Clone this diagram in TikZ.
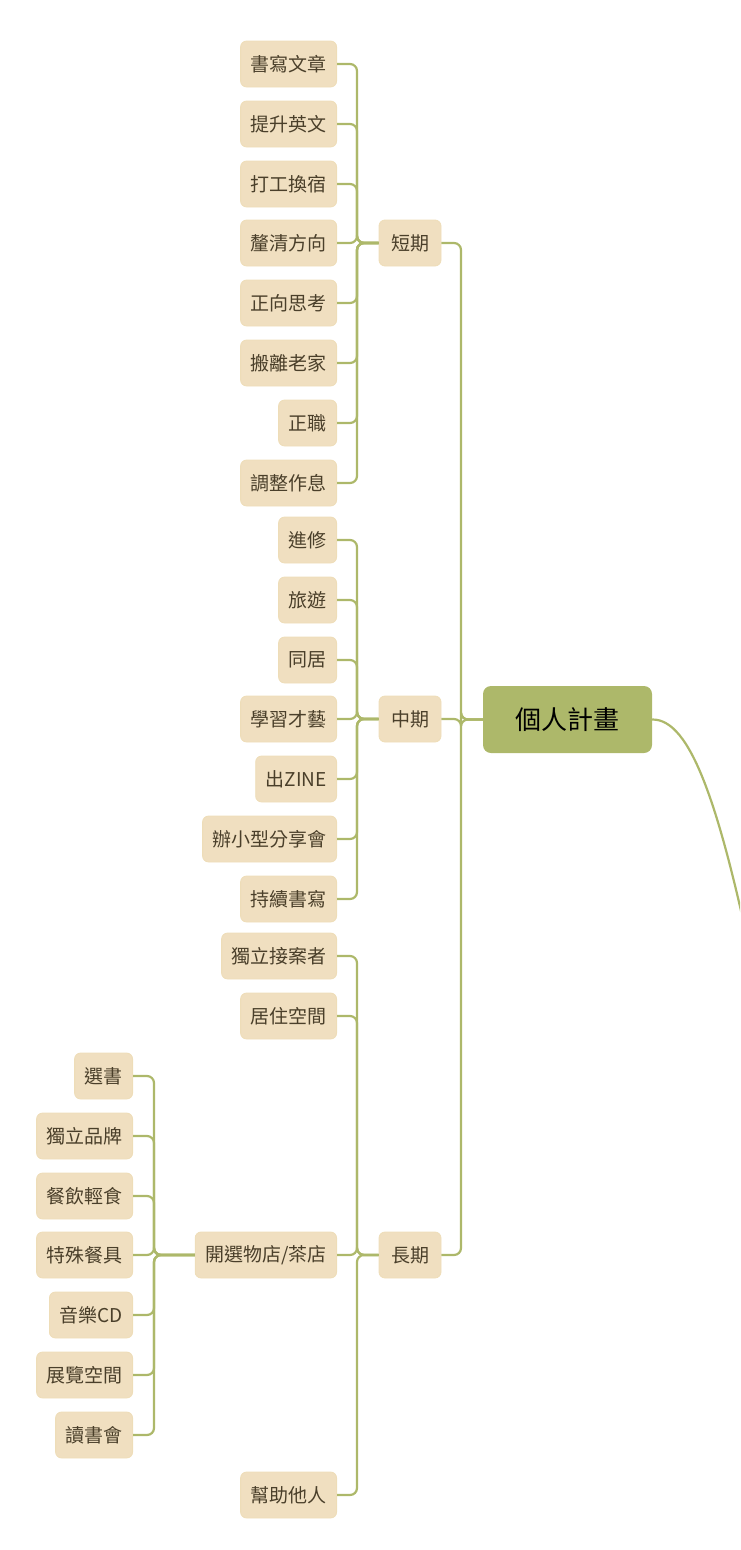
\documentclass[tikz,border=0pt]{standalone}
\usepackage{fontspec}
\setmainfont{Noto Sans CJK TC}
\begin{document}
\begin{tikzpicture}[x=1pt,y=-1pt,
  leaf/.style={draw=leafline,fill=leaffill,rounded corners=6pt,minimum height=46pt,inner xsep=10pt,text=txt,font=\fontsize{19pt}{22pt}\selectfont,anchor=east,line width=0.8pt},
  br/.style={leaf,anchor=center,minimum width=62pt},
  con/.style={draw=lin,line width=2.2pt,rounded corners=7pt}]
\definecolor{leaffill}{HTML}{F0DFC0}
\definecolor{leafline}{HTML}{EEDDB8}
\definecolor{txt}{HTML}{4A3F2A}
\definecolor{lin}{HTML}{ADB86A}
\useasboundingbox (0,0) rectangle (740,1550);
\node[draw=none,fill=lin,rounded corners=8pt,minimum width=169pt,minimum height=67pt,font=\fontsize{26pt}{30pt}\selectfont,text=black] (root) at (567.5,719.5) {個人計畫};
\node[br] (s) at (410,243) {短期};
\node[br] (m) at (410,719) {中期};
\node[br] (l) at (410,1255) {長期};
\foreach \b in {s,m,l}{\draw[con] (root.west) -| (461,0 |- \b.east) -- (\b.east);}
\begin{scope}
\clip (0,0) rectangle (740,1550);
\draw[draw=lin,line width=2.2pt] (root.east) .. controls (690,719) and (720,800) .. (760,1000);
\end{scope}
% short
\foreach \t/\y [count=\i] in {書寫文章/64,提升英文/124,打工換宿/184,釐清方向/243,正向思考/303,搬離老家/363,正職/423,調整作息/483}{
  \node[leaf] (s\i) at (337,\y) {\t};
  \draw[con] (s\i.east) -| (357,0 |- s.west) -- (s.west);}
\foreach \t/\y [count=\i] in {進修/540,旅遊/600,同居/660,學習才藝/719,出ZINE/779,辦小型分享會/839,持續書寫/899}{
  \node[leaf] (m\i) at (337,\y) {\t};
  \draw[con] (m\i.east) -| (357,0 |- m.west) -- (m.west);}
\foreach \t/\y [count=\i] in {獨立接案者/956,居住空間/1016,{開選物店/茶店}/1255,幫助他人/1495}{
  \node[leaf] (l\i) at (337,\y) {\t};
  \draw[con] (l\i.east) -| (357,0 |- l.west) -- (l.west);}
\foreach \t/\y [count=\i] in {選書/1076,獨立品牌/1136,餐飲輕食/1196,特殊餐具/1255,音樂CD/1315,展覽空間/1375,讀書會/1435}{
  \node[leaf] (c\i) at (133,\y) {\t};
  \draw[con] (c\i.east) -| (154,0 |- l3.west) -- (l3.west);}
\end{tikzpicture}
\end{document}
